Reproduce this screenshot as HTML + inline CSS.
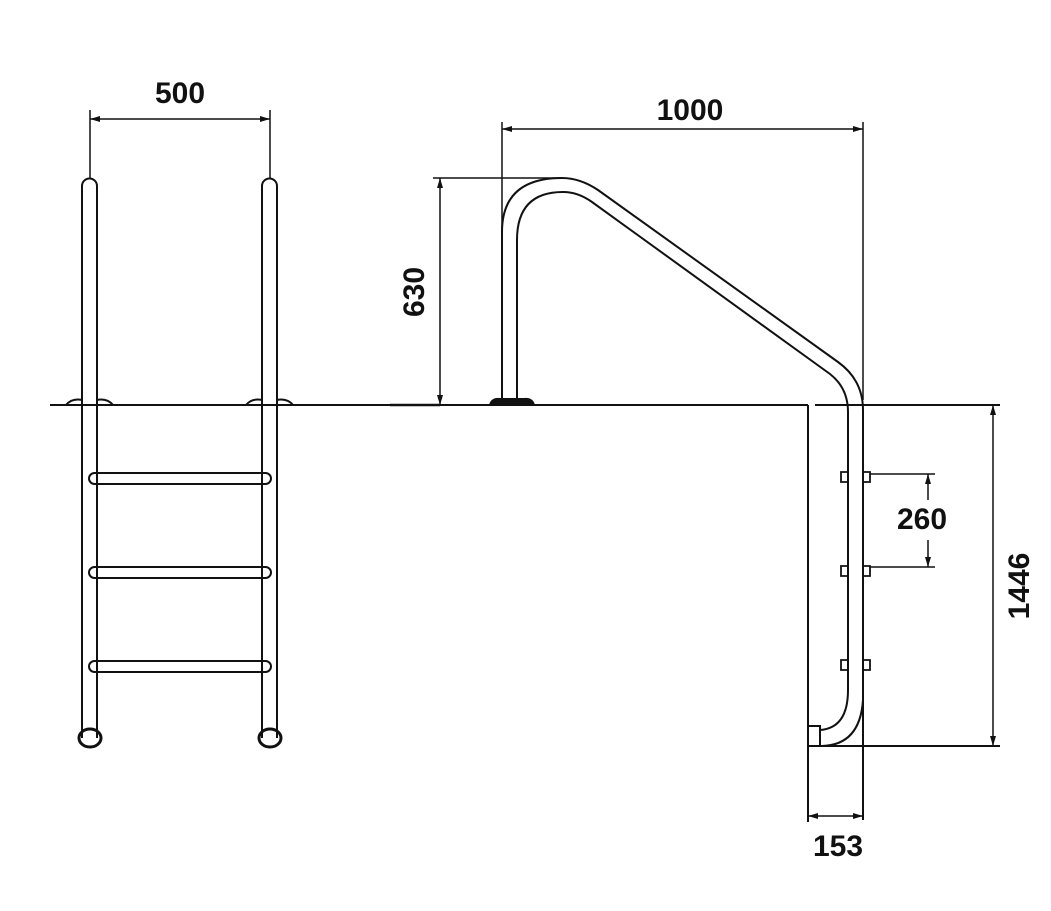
<!DOCTYPE html>
<html><head><meta charset="utf-8"><style>
html,body{margin:0;padding:0;background:#fff;}
svg{display:block;}
text{font-family:"Liberation Sans",sans-serif;font-weight:bold;fill:#111;}
</style></head><body>
<svg width="1051" height="911" viewBox="0 0 1051 911" xmlns="http://www.w3.org/2000/svg">
<defs>
<marker id="a" viewBox="0 0 10 6" refX="10" refY="3" markerWidth="10" markerHeight="6" orient="auto-start-reverse" markerUnits="userSpaceOnUse"><path d="M0,0L10,3L0,6z" fill="#111"/></marker>
</defs>
<g fill="none" stroke="#111" stroke-width="2">
<!-- deck line -->
<line x1="50" y1="405" x2="808" y2="405"/>
<line x1="815" y1="405" x2="1000" y2="405"/>
<!-- left ladder pipes -->
<path d="M82,738 L82,186 A7.5,7.5 0 0 1 97,186 L97,738"/>
<path d="M262,738 L262,186 A7.5,7.5 0 0 1 277,186 L277,738"/>
<ellipse cx="90" cy="738" rx="11" ry="9" stroke-width="3"/>
<ellipse cx="270" cy="738" rx="11" ry="9" stroke-width="3"/>
<!-- flanges -->
<path d="M66,405 Q72,398 82,400" /><path d="M97,400 Q107,398 113,405"/>
<path d="M246,405 Q252,398 262,400" /><path d="M277,400 Q287,398 293,405"/>
<!-- rungs -->
<rect x="89" y="473" width="182" height="11" rx="5.5"/>
<rect x="89" y="567" width="182" height="11" rx="5.5"/>
<rect x="89" y="661" width="182" height="11" rx="5.5"/>
<!-- 500 dim -->
<line x1="90" y1="110" x2="90" y2="178" stroke-width="1.5"/>
<line x1="270" y1="110" x2="270" y2="178" stroke-width="1.5"/>
<line x1="90" y1="119" x2="270" y2="119" stroke-width="1.5" marker-start="url(#a)" marker-end="url(#a)"/>
<!-- handrail -->
<path d="M502,400 L502,232 Q502,178 562,178 Q580,178 598,190 L838,362 Q863,380 863,410 L863,820"/>
<path d="M517,400 L517,240 Q517,192 563,192 Q578,192 592,202 L830,374 Q848,388 848,412 L848,690 Q848,728 820,730"/>
<path d="M863,700 Q860,745 822,746"/>
<rect x="808" y="726" width="12" height="20"/>
<path d="M490,405 Q492,398 500,399 L524,399 Q532,398 534,405 Z" fill="#111"/>
<!-- wall -->
<line x1="808" y1="405" x2="808" y2="822"/>
<line x1="820" y1="746" x2="1000" y2="746"/>
<!-- brackets -->
<g stroke-width="1.8">
<path d="M848,472 h-7 v10 h7"/><path d="M863,472 h7 v10 h-7"/>
<path d="M848,566 h-7 v10 h7"/><path d="M863,566 h7 v10 h-7"/>
<path d="M848,660 h-7 v10 h7"/><path d="M863,660 h7 v10 h-7"/>
</g>
<!-- 1000 dim -->
<line x1="502" y1="122" x2="502" y2="232" stroke-width="1.5"/>
<line x1="863" y1="122" x2="863" y2="400" stroke-width="1.5"/>
<line x1="502" y1="129" x2="863" y2="129" stroke-width="1.5" marker-start="url(#a)" marker-end="url(#a)"/>
<!-- 630 dim -->
<line x1="433" y1="178" x2="560" y2="178" stroke-width="1.5"/>
<line x1="440" y1="178" x2="440" y2="405" stroke-width="1.5" marker-start="url(#a)" marker-end="url(#a)"/>
<line x1="390" y1="405" x2="440" y2="405" stroke-width="2.5"/>
<!-- 260 dim -->
<line x1="870" y1="474" x2="935" y2="474" stroke-width="1.5"/>
<line x1="870" y1="567" x2="935" y2="567" stroke-width="1.5"/>
<line x1="928" y1="474" x2="928" y2="500" stroke-width="1.5" marker-start="url(#a)"/>
<line x1="928" y1="540" x2="928" y2="567" stroke-width="1.5" marker-end="url(#a)"/>
<!-- 1446 dim -->
<line x1="993" y1="405" x2="993" y2="746" stroke-width="1.5" marker-start="url(#a)" marker-end="url(#a)"/>
<!-- 153 dim -->
<line x1="808" y1="816" x2="863" y2="816" stroke-width="1.5" marker-start="url(#a)" marker-end="url(#a)"/>
</g>
<text x="180" y="103" font-size="30" text-anchor="middle">500</text>
<text x="690" y="120" font-size="30" text-anchor="middle">1000</text>
<text x="0" y="0" font-size="30" text-anchor="middle" transform="translate(424,292) rotate(-90)">630</text>
<text x="922" y="529" font-size="30" text-anchor="middle">260</text>
<text x="0" y="0" font-size="30" text-anchor="middle" transform="translate(1029,586) rotate(-90)">1446</text>
<text x="838" y="856" font-size="30" text-anchor="middle">153</text>
</svg>
</body></html>
